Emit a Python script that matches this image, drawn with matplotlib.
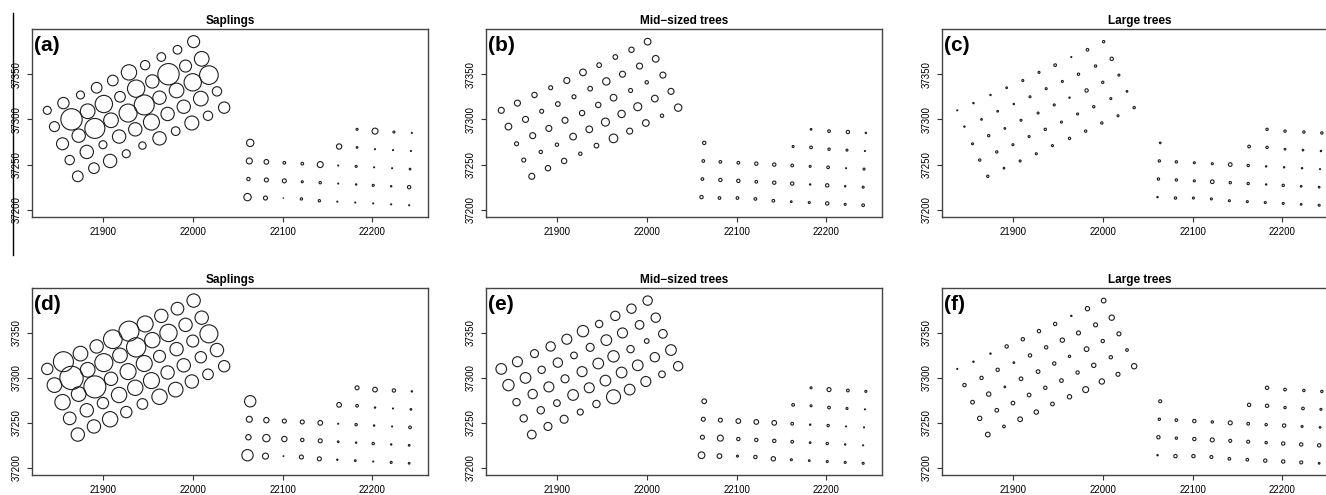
"""Bubble maps of stem density per plot: saplings, mid-sized and large trees.

Two rows of three panels (a-c, d-f); every panel shows the same 90 plot
centres, circle radius proportional to the plotted value.
"""

import matplotlib

matplotlib.use("Agg")
import matplotlib.pyplot as plt
from matplotlib.lines import Line2D

plt.rcParams["font.family"] = ["Liberation Sans", "DejaVu Sans"]

# plot centres -- west block: 5 rotated rows of 10 plots
x_west = [
    21838, 21856, 21875, 21893, 21911, 21929, 21947, 21965, 21983, 22001,
    21846, 21865, 21883, 21901, 21919, 21937, 21955, 21973, 21992, 22010,
    21855, 21873, 21891, 21909, 21928, 21946, 21963, 21982, 22000, 22018,
    21863, 21882, 21900, 21918, 21936, 21954, 21972, 21990, 22009, 22027,
    21872, 21890, 21908, 21926, 21944, 21963, 21981, 21999, 22017, 22035,
]
y_west = [
    37310, 37318, 37327, 37335, 37343, 37352, 37360, 37369, 37377, 37386,
    37292, 37300, 37309, 37317, 37325, 37334, 37342, 37350, 37359, 37367,
    37273, 37282, 37290, 37299, 37307, 37316, 37324, 37332, 37341, 37349,
    37255, 37264, 37272, 37281, 37289, 37297, 37306, 37314, 37323, 37331,
    37237, 37246, 37254, 37262, 37271, 37279, 37287, 37296, 37304, 37313,
]
# east block: single plot, row of 4, row of 5, then three rows of 10
x_east = [
    22064,
    22183, 22203, 22224, 22244,
    22163, 22183, 22203, 22223, 22243,
    22063, 22082, 22102, 22122, 22142, 22162, 22182, 22202, 22222, 22242,
    22062, 22082, 22102, 22122, 22142, 22162, 22182, 22201, 22221, 22241,
    22061, 22081, 22101, 22121, 22141, 22161, 22181, 22201, 22221, 22241,
]
y_east = [
    37274,
    37289, 37287, 37286, 37285,
    37270, 37269, 37267, 37266, 37265,
    37254, 37253, 37252, 37251, 37250, 37249, 37248, 37247, 37246, 37245,
    37234, 37233, 37232, 37231, 37230, 37229, 37228, 37227, 37226, 37225,
    37214, 37213, 37213, 37212, 37210, 37209, 37208, 37207, 37206, 37205,
]

# plotted values (same plot order as above: west block then east block)
sap_a = [
    12, 17, 12, 16, 16, 23, 14, 13, 13, 18,
    15, 32, 22, 26, 16, 26, 20, 32, 18, 22,
    18, 20, 30, 22, 27, 30, 20, 22, 26, 28,
    14, 20, 12, 20, 20, 24, 20, 20, 22, 14,
    16, 16, 20, 12, 11, 20, 13, 21, 14, 17,
    11,
    3, 9, 3, 1.5,
    8, 2.5, 1.5, 1.5, 1.5,
    9, 7, 4, 4, 9, 1.5, 3, 1.5, 1.5, 2.5,
    5, 6, 6, 3, 3.5, 1.5, 2, 3, 2, 5,
    11, 6, 0.8, 3.5, 3.5, 1.5, 1.5, 1.5, 1.5, 1.5,
]
mid_b = [
    9, 9, 8, 6, 9, 10, 7, 7, 8, 10,
    10, 9, 6, 7, 6, 7, 11, 9, 9, 10,
    6, 9, 9, 9, 8, 8, 10, 6, 5, 9,
    6, 5, 5, 10, 10, 12, 11, 12, 10, 9,
    9, 8, 8, 5, 7, 13, 9, 10, 5, 11,
    5,
    2.5, 4, 5, 2,
    3, 4, 3.5, 3, 1.5,
    4, 4, 4, 5, 5, 4, 3, 4, 1.5, 3,
    4, 5, 5, 4, 5, 5, 2, 5, 2, 3,
    5, 4, 4, 4, 4, 2.5, 3, 5, 3, 4,
]
large_c = [
    1.5, 2, 2, 2.5, 3, 3, 4, 1.5, 4, 3.5,
    2, 2.5, 2.5, 2, 3, 3, 3, 3.5, 3.5, 5,
    3, 3.5, 2.5, 3, 3, 3, 2, 5, 3.5, 3,
    3.5, 3.5, 3, 3, 3.5, 3, 3, 3.5, 3, 2.5,
    3.5, 2.5, 3, 3, 3, 3.5, 3.5, 3.5, 3, 3.5,
    2.5,
    3.5, 3.5, 3.5, 3.5,
    4, 3.5, 2.5, 2.5, 2,
    3.5, 3.5, 3, 3, 5.5, 3.5, 2, 2, 2, 1.5,
    3.5, 3.5, 3, 5.5, 3.5, 3.5, 2, 3.5, 2.5, 2.5,
    2, 3.5, 3, 3, 3, 3, 3, 3, 2.5, 3,
]
sap_d = [
    17, 30, 22, 20, 28, 30, 24, 20, 19, 20,
    22, 35, 22, 27, 22, 29, 23, 26, 20, 20,
    23, 22, 33, 20, 24, 24, 18, 20, 18, 27,
    19, 20, 17, 23, 23, 24, 20, 20, 17, 20,
    20, 20, 23, 17, 16, 23, 22, 20, 16, 17,
    17,
    6, 7, 5, 2,
    7, 4, 2, 1.5, 2.5,
    9, 8, 6, 6, 7, 1.5, 3.5, 2, 1.5, 4,
    8, 11, 8, 5, 6, 2.5, 2, 3.5, 2, 2.5,
    17, 9, 1.2, 6, 6, 2, 2.5, 1.5, 3, 2.5,
]
mid_e = [
    16, 15, 12, 14, 15, 17, 11, 14, 14, 14,
    17, 16, 11, 14, 10, 12, 16, 15, 13, 14,
    11, 14, 15, 12, 15, 16, 17, 11, 7, 13,
    11, 11, 10, 16, 15, 16, 16, 16, 14, 16,
    13, 12, 12, 9, 11, 21, 16, 15, 10, 14,
    7,
    3, 6, 4, 3,
    4, 3, 4, 3, 1.5,
    6, 6, 7, 7, 7, 4, 2, 3.5, 1.5, 1.5,
    6, 9, 5, 5, 5, 4, 2.5, 3.5, 2, 1.5,
    10, 7, 3, 5, 6.5, 3, 2.5, 3, 3, 3,
]
large_f = [
    1.5, 2, 2, 5, 5, 5, 5, 2, 6.5, 7,
    5, 5, 5, 2.5, 5, 5, 6.5, 6, 6, 8,
    5.5, 6.5, 2.5, 5.5, 5.5, 5, 3.5, 7, 5, 6,
    6.5, 5.5, 5.5, 5.5, 5, 5.5, 5, 6.5, 5, 4,
    7, 4, 7, 6.5, 5.5, 6.5, 9, 8, 6, 8,
    4.5,
    5, 4, 3.5, 3.5,
    5, 5, 3.5, 4, 3,
    3.5, 4, 5, 3.5, 6, 4, 3.5, 5, 3, 2.5,
    5, 3.5, 5, 6, 4.5, 4.5, 3.5, 5, 5, 5,
    2, 5, 5, 4.5, 4, 4, 5, 5, 4.5, 2.5,
]

titles = ["Saplings", "Mid\u2212sized trees", "Large trees"]
panel_labels = ["(a)", "(b)", "(c)", "(d)", "(e)", "(f)"]
x_ticks = [21900, 22000, 22100, 22200]
y_ticks = [37200, 37250, 37300, 37350]

W, H = 1326, 495
RADIUS_PT = 0.24  # circle radius in points per unit value


def draw_panel(ax, values, title, label):
    xs = x_west + x_east
    ys = y_west + y_east
    sizes = [(2 * RADIUS_PT * v) ** 2 for v in values]
    ax.scatter(xs, ys, s=sizes, facecolors="none", edgecolors="#1e1e1e",
               linewidths=0.8, zorder=3)
    ax.set_xlim(21821, 22262)
    ax.set_ylim(37192, 37400)
    ax.set_xticks(x_ticks)
    ax.set_yticks(y_ticks)
    ax.tick_params(length=3.6, width=0.8, color="#333333", labelsize=7, pad=3.5)
    for t in ax.get_yticklabels():
        t.set_rotation(90)
        t.set_va("center")
    for sp in ax.spines.values():
        sp.set_color("#444444")
        sp.set_linewidth(1.0)
    ax.set_title(title, fontsize=8.5, fontweight="bold", pad=3.5)
    ax.text(0.006, 0.965, label, transform=ax.transAxes, ha="left", va="top",
            fontsize=15, fontweight="bold")


fig = plt.figure(figsize=(W / 100, H / 100), dpi=100)

lefts = [32, 486, 942]
rows = [(29, 217), (288, 475)]
panels = [sap_a, mid_b, large_c, sap_d, mid_e, large_f]
for i, values in enumerate(panels):
    top, bottom = rows[i // 3]
    left = lefts[i % 3]
    ax = fig.add_axes([left / W, 1 - bottom / H, 396 / W, (bottom - top) / H])
    draw_panel(ax, values, titles[i % 3], panel_labels[i])

# stray rule at the far left edge of the scanned figure
fig.add_artist(Line2D([13 / W, 13 / W], [1 - 13 / H, 1 - 255 / H],
                      color="black", lw=1.0))

fig.savefig("out.png", dpi=100)
